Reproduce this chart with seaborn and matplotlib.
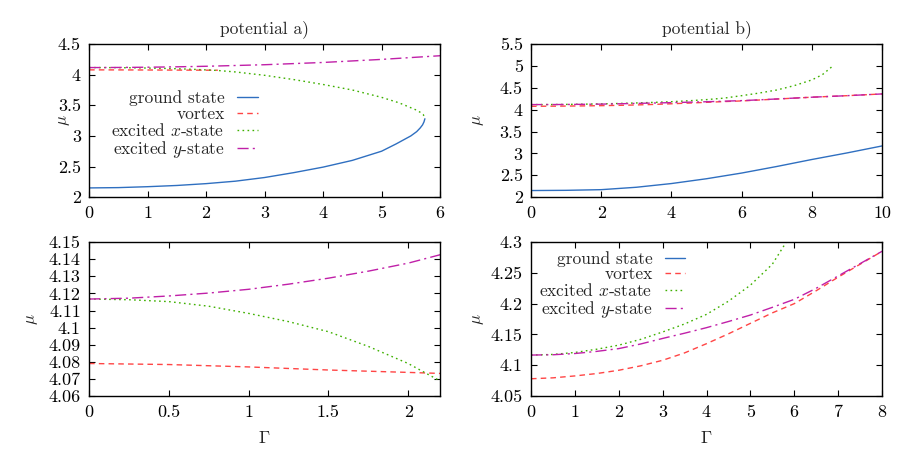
import matplotlib
matplotlib.use("Agg")
import matplotlib.pyplot as plt
import seaborn as sns

# ---- potential a) ----
gamma_a_ground = [0, 0.5, 1, 1.5, 2, 2.5, 3, 3.5, 4, 4.5, 5, 5.25, 5.5, 5.6, 5.66, 5.70, 5.725, 5.74]
mu_a_ground = [2.15, 2.155, 2.17, 2.19, 2.22, 2.26, 2.32, 2.40, 2.49, 2.60, 2.75, 2.87, 3.00,
               3.07, 3.13, 3.18, 3.23, 3.28]

gamma_a_vortex = [0, 0.5, 1, 1.5, 2, 2.2]
mu_a_vortex = [4.079, 4.0784, 4.077, 4.0752, 4.0738, 4.0732]

gamma_a_x = [0, 0.25, 0.5, 0.75, 1, 1.25, 1.5, 1.75, 2, 2.2, 2.5, 3, 3.5, 4, 4.5, 5, 5.3, 5.5,
             5.6, 5.67, 5.71, 5.735, 5.74]
mu_a_x = [4.1167, 4.1163, 4.1152, 4.1125, 4.1083, 4.1035, 4.0976, 4.089, 4.079, 4.0688,
          4.045, 3.99, 3.92, 3.84, 3.75, 3.63, 3.54, 3.46, 3.42, 3.38, 3.35, 3.31, 3.28]

gamma_a_y = [0, 0.25, 0.5, 0.75, 1, 1.25, 1.5, 1.75, 2, 2.2, 3, 4, 5, 6]
mu_a_y = [4.1167, 4.1172, 4.1185, 4.1202, 4.1224, 4.1254, 4.1289, 4.133, 4.1377, 4.1426,
          4.163, 4.20, 4.25, 4.31]

# ---- potential b) ----
gamma_b_ground = [0, 1, 2, 3, 4, 5, 6, 7, 8, 9, 10]
mu_b_ground = [2.15, 2.155, 2.17, 2.225, 2.31, 2.42, 2.55, 2.70, 2.86, 3.01, 3.17]

gamma_b_vortex = [0, 0.5, 1, 1.5, 2, 2.5, 3, 3.5, 4, 4.5, 5, 5.5, 6, 6.5, 7, 7.5, 8, 9, 10]
mu_b_vortex = [4.078, 4.0795, 4.0826, 4.0865, 4.0918, 4.099, 4.108, 4.12, 4.135, 4.151,
               4.168, 4.185, 4.200, 4.221, 4.243, 4.264, 4.285, 4.32, 4.36]

gamma_b_x = [0, 0.5, 1, 1.5, 2, 2.5, 3, 3.5, 4, 4.5, 5, 5.5, 5.8, 6, 6.5, 7, 7.5, 8, 8.3, 8.6]
mu_b_x = [4.1165, 4.1175, 4.1207, 4.126, 4.1326, 4.142, 4.154, 4.167, 4.1826, 4.204,
          4.23, 4.264, 4.298, 4.32, 4.38, 4.45, 4.55, 4.68, 4.80, 5.00]

gamma_b_y = [0, 0.5, 1, 1.5, 2, 2.5, 3, 3.5, 4, 4.5, 5, 5.5, 6, 6.5, 7, 7.5, 8, 9, 10]
mu_b_y = [4.1165, 4.117, 4.119, 4.1225, 4.127, 4.1345, 4.1435, 4.152, 4.161, 4.171,
          4.1815, 4.194, 4.207, 4.225, 4.245, 4.265, 4.285, 4.32, 4.36]

labels = ["ground state", "vortex", r"excited $x$-state", r"excited $y$-state"]
colors = ["#2f6fc0", "#ff4545", "#3fb000", "#c020a8"]
dashes = [(None, None), (4, 3), (1.2, 2.4), (8, 3, 1.5, 3)]

sns.set_theme(style="ticks")
plt.rcParams["font.family"] = ["cmr10", "DejaVu Serif"]
plt.rcParams["mathtext.fontset"] = "cm"
plt.rcParams["axes.formatter.use_mathtext"] = True
plt.rcParams["font.size"] = 12


def draw(ax, series):
    for (g, m), lab, col, ds in zip(series, labels, colors, dashes):
        line = sns.lineplot(x=g, y=m, ax=ax, sort=False, estimator=None,
                            color=col, lw=1.0, label=lab, legend=False).lines[-1]
        if ds[0] is not None:
            line.set_dashes(ds)


def style(ax, xlim, ylim, xticks, yticks):
    ax.set_xlim(*xlim)
    ax.set_ylim(*ylim)
    ax.set_xticks(xticks)
    ax.set_yticks(yticks)
    ax.set_yticklabels(["%g" % round(v, 2) for v in yticks])
    ax.set_xticklabels(["%g" % v for v in xticks])
    ax.tick_params(direction="in", top=True, right=True, length=4, width=0.8,
                   labelsize=13, colors="black", pad=6)
    for sp in ax.spines.values():
        sp.set_visible(True)
        sp.set_linewidth(1.0)
        sp.set_color("black")
    ax.set_xlabel("")
    ax.set_ylabel(r"$\mu$", fontsize=12)


fig = plt.figure(figsize=(9, 4.5), dpi=100)
ax_a = fig.add_axes([0.099, 0.562, 0.390, 0.340])
ax_b = fig.add_axes([0.590, 0.562, 0.390, 0.340])
ax_c = fig.add_axes([0.099, 0.120, 0.390, 0.342])
ax_d = fig.add_axes([0.590, 0.120, 0.390, 0.342])

series_a = [(gamma_a_ground, mu_a_ground), (gamma_a_vortex, mu_a_vortex),
            (gamma_a_x, mu_a_x), (gamma_a_y, mu_a_y)]
series_b = [(gamma_b_ground, mu_b_ground), (gamma_b_vortex, mu_b_vortex),
            (gamma_b_x, mu_b_x), (gamma_b_y, mu_b_y)]

for ax in (ax_a, ax_c):
    draw(ax, series_a)
for ax in (ax_b, ax_d):
    draw(ax, series_b)

style(ax_a, (0, 6), (2, 4.5), [0, 1, 2, 3, 4, 5, 6], [2, 2.5, 3, 3.5, 4, 4.5])
style(ax_b, (0, 10), (2, 5.5), [0, 2, 4, 6, 8, 10], [2, 2.5, 3, 3.5, 4, 4.5, 5, 5.5])
style(ax_c, (0, 2.2), (4.06, 4.15), [0, 0.5, 1, 1.5, 2],
      [4.06, 4.07, 4.08, 4.09, 4.10, 4.11, 4.12, 4.13, 4.14, 4.15])
style(ax_d, (0, 8), (4.05, 4.3), [0, 1, 2, 3, 4, 5, 6, 7, 8],
      [4.05, 4.1, 4.15, 4.2, 4.25, 4.3])

ax_a.set_title("potential a)", fontsize=12.5, pad=8)
ax_b.set_title("potential b)", fontsize=12.5, pad=8)
for ax in (ax_c, ax_d):
    ax.set_xlabel(r"$\Gamma$", fontsize=13)
    ax.xaxis.set_label_coords(0.5, -0.22)
ax_a.yaxis.set_label_coords(-0.05, 0.5)
# long tick labels here, so keep the label clear of them
ax_c.yaxis.set_label_coords(-0.14, 0.5)
for ax in (ax_b, ax_d):
    ax.yaxis.set_label_coords(-0.128, 0.5)

leg_kw = dict(frameon=False, markerfirst=False, fontsize=12.5, handlelength=1.2,
              handletextpad=0.7, labelspacing=0.0, borderpad=0, borderaxespad=0)
ax_a.legend(loc="center right", bbox_to_anchor=(0.48, 0.47), **leg_kw)
ax_d.legend(loc="upper right", bbox_to_anchor=(0.44, 0.94), **leg_kw)

fig.savefig("out.png", dpi=100)
